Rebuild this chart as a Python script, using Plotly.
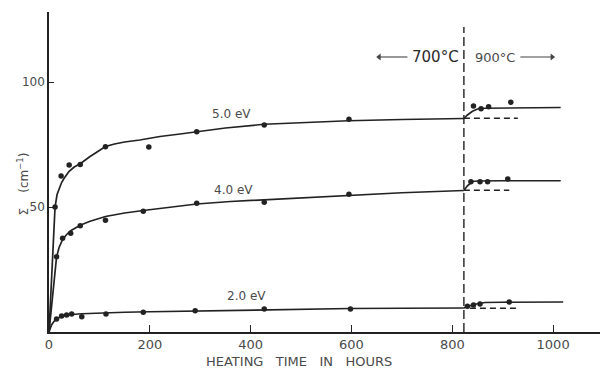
import plotly.graph_objects as go

# ---- data ----
SWITCH_HOURS = 823          # change 700°C -> 900°C
SWITCH_TOP = 122

# measured points
p50_h = [12, 24, 40, 62, 112, 198, 293, 427, 595, 842, 857, 872, 916]
p50_v = [50, 62.4, 66.8, 67, 74.1, 74.0, 80.1, 82.8, 85.1, 90.4, 89.3, 90.1, 91.9]
p40_h = [15, 27, 43, 62, 112, 187, 293, 427, 595, 837, 855, 870, 910]
p40_v = [30.1, 37.5, 39.5, 42.5, 44.7, 48.3, 51.5, 51.9, 55.1, 60.1, 60.1, 60.1, 61.2]
p20_h = [15, 25, 35, 45, 65, 113, 187, 290, 427, 598, 830, 842, 855, 913]
p20_v = [5.2, 6.4, 6.8, 7.2, 6.1, 7.2, 7.9, 8.5, 9.2, 9.2, 10.3, 10.8, 11.2, 12.0]

# drawn curves (700°C part)
c50_h = [0, 4, 8, 12, 16, 20, 25, 30, 40, 50, 62, 80, 100, 112, 130, 150, 180, 220, 260, 300, 350, 427, 500, 594, 700, 823]
c50_v = [0, 17, 34, 50, 55, 57.5, 59.8, 61.5, 64.3, 66, 67.3, 70, 72.7, 74.2, 75.2, 76, 76.8, 78.2, 79.2, 80.3, 81.6, 83.1, 83.8, 84.5, 85, 85.4]
c40_h = [0, 8, 15, 20, 27, 35, 43, 62, 80, 112, 150, 187, 240, 293, 360, 427, 500, 594, 700, 823]
c40_v = [0, 16, 30, 33.8, 37, 39, 40.5, 42.7, 44.2, 46.2, 47.6, 48.6, 50, 51.2, 52.2, 52.9, 53.8, 54.8, 55.7, 56.6]
c20_h = [0, 5, 10, 15, 20, 30, 45, 65, 100, 150, 200, 300, 427, 500, 598, 700, 823]
c20_v = [0, 2.8, 4.3, 5.2, 5.8, 6.5, 7.0, 7.3, 7.6, 7.9, 8.1, 8.5, 9.0, 9.2, 9.4, 9.5, 9.6]

# drawn curves (900°C part)
d50_h = [823, 830, 840, 850, 865, 900, 960, 1015]
d50_v = [85.4, 86.8, 88.3, 89.2, 89.5, 89.6, 89.7, 89.8]
d40_h = [823, 830, 840, 850, 900, 960, 1015]
d40_v = [56.6, 58.5, 60.2, 60.4, 60.5, 60.5, 60.5]
d20_h = [823, 835, 850, 865, 900, 960, 1020]
d20_v = [9.6, 10.5, 11.3, 11.8, 11.9, 12.0, 12.0]

# dashed extrapolations of the 700°C curves
e50_h = [823, 930]; e50_v = [85.5, 85.5]
e40_h = [823, 913]; e40_v = [56.7, 56.7]
e20_h = [835, 930]; e20_v = [9.5, 9.5]

# temperature-regime arrows (hours) at level TEMP_LEVEL
TEMP_LEVEL = 110
arrow_left_h = [711, 655]
arrow_right_h = [935, 998]

x_ticks = [0, 200, 400, 600, 800, 1000]
y_ticks = [50, 100]
series_labels = ["5.0 eV", "4.0 eV", "2.0 eV"]
label_pos_h = [363, 365, 392]
label_pos_v = [87.1, 56.8, 14.4]

INK = "#222222"
TXT = "#4a4a4a"
FONT = "DejaVu Sans"

fig = go.Figure()

for h, v in [(c50_h, c50_v), (c40_h, c40_v), (c20_h, c20_v),
             (d50_h, d50_v), (d40_h, d40_v), (d20_h, d20_v)]:
    fig.add_trace(go.Scatter(x=h, y=v, mode="lines",
                             line=dict(color=INK, width=1.7), showlegend=False,
                             hoverinfo="skip"))

for h, v in [(e50_h, e50_v), (e40_h, e40_v), (e20_h, e20_v)]:
    fig.add_trace(go.Scatter(x=h, y=v, mode="lines",
                             line=dict(color=INK, width=1.5, dash="6px,4px"),
                             showlegend=False, hoverinfo="skip"))

fig.add_trace(go.Scatter(x=[SWITCH_HOURS, SWITCH_HOURS], y=[0, SWITCH_TOP], mode="lines",
                         line=dict(color=INK, width=1.4, dash="9px,4px"),
                         showlegend=False, hoverinfo="skip"))

# arrows: shaft + head
for hs, sym in [(arrow_left_h, "triangle-left"), (arrow_right_h, "triangle-right")]:
    fig.add_trace(go.Scatter(x=hs, y=[TEMP_LEVEL, TEMP_LEVEL], mode="lines",
                             line=dict(color="#444444", width=1.1),
                             showlegend=False, hoverinfo="skip"))
    fig.add_trace(go.Scatter(x=[hs[1]], y=[TEMP_LEVEL], mode="markers",
                             marker=dict(symbol=sym, size=6, color="#444444"),
                             showlegend=False, hoverinfo="skip"))

for h, v in [(p50_h, p50_v), (p40_h, p40_v), (p20_h, p20_v)]:
    fig.add_trace(go.Scatter(x=h, y=v, mode="markers",
                             marker=dict(color=INK, size=5.5), showlegend=False))

annotations = []
for t, h, v in zip(series_labels, label_pos_h, label_pos_v):
    annotations.append(dict(x=h, y=v, xref="x", yref="y", text=t, showarrow=False,
                            font=dict(family=FONT, size=12, color=TXT)))

annotations += [
    dict(x=767, y=TEMP_LEVEL, xref="x", yref="y", text="700°C", showarrow=False,
         font=dict(family=FONT, size=15, color="#2a2a2a")),
    dict(x=884, y=TEMP_LEVEL, xref="x", yref="y", text="900°C", showarrow=False,
         font=dict(family=FONT, size=13, color=TXT)),
    dict(x=496, y=0, xref="x", yref="paper", yanchor="middle", yshift=-29,
         text="HEATING   TIME   IN   HOURS",
         showarrow=False, font=dict(family=FONT, size=13, color=TXT)),
    dict(x=-37/551, y=59, xref="paper", yref="y", text="Σ&nbsp;&nbsp;&nbsp;&nbsp;(cm<sup>−1</sup>)",
         textangle=-90, showarrow=False, font=dict(family=FONT, size=12, color=TXT)),
]

fig.update_layout(
    width=601, height=370,
    margin=dict(l=49, r=1, t=12, b=38),
    paper_bgcolor="white", plot_bgcolor="white",
    annotations=annotations,
    xaxis=dict(range=[0, 1093], showgrid=False, zeroline=False,
               showline=True, linecolor=INK, linewidth=1.5,
               ticks="inside", ticklen=7, tickwidth=1.2, tickcolor=INK,
               tickvals=x_ticks, ticktext=[str(t) for t in x_ticks],
               tickfont=dict(family=FONT, size=13, color=TXT)),
    yaxis=dict(range=[0, 128], showgrid=False, zeroline=False,
               showline=True, linecolor=INK, linewidth=1.5,
               ticks="inside", ticklen=5, tickwidth=1.2, tickcolor=INK,
               tickvals=y_ticks, ticktext=[str(t) for t in y_ticks],
               tickfont=dict(family=FONT, size=12, color=TXT)),
)

fig.write_html("out.html")
